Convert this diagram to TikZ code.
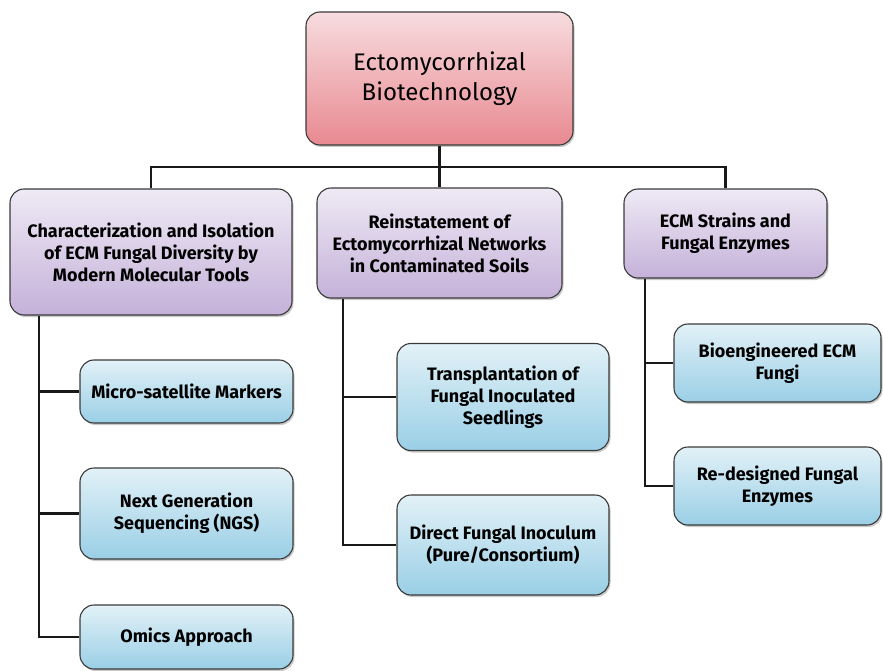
\documentclass[tikz,border=0pt]{standalone}
\usepackage{fontspec}
\setmainfont{Fira Sans}
\usetikzlibrary{shadows}
\definecolor{pinkT}{HTML}{F7DCDF}
\definecolor{pinkB}{HTML}{E88990}
\definecolor{lavT}{HTML}{EEEAF5}
\definecolor{lavB}{HTML}{C5B1D9}
\definecolor{bluT}{HTML}{E2F1F7}
\definecolor{bluB}{HTML}{9ACFE6}
\definecolor{edge}{HTML}{3A3A3A}
\tikzset{
  box/.style={draw=edge, line width=1.1pt, rounded corners=14pt, align=center, inner sep=0pt,
    drop shadow={shadow xshift=1.5pt, shadow yshift=-2pt, opacity=0.35, fill=black!60}},
  topbox/.style={box, top color=pinkT, bottom color=pinkB,
    font=\fontsize{24}{30}\selectfont},
  catbox/.style={box, top color=lavT, bottom color=lavB,
    font=\fontsize{18}{22}\selectfont\bfseries},
  leafbox/.style={box, top color=bluT, bottom color=bluB,
    font=\fontsize{18}{22}\selectfont\bfseries},
  conn/.style={draw=black!90, line width=2.2pt}
}
\begin{document}
\begin{tikzpicture}[x=1pt,y=-1pt]
\useasboundingbox (0,0) rectangle (883,671);
% boxes
\node[topbox, minimum width=267pt, minimum height=133pt] (top) at (439.5,78.5) {Ectomycorrhizal\\Biotechnology};
\node[catbox, minimum width=282pt, minimum height=126pt] (c1) at (151,252) {Characterization and Isolation\\of ECM Fungal Diversity by\\Modern Molecular Tools};
\node[catbox, minimum width=245pt, minimum height=110pt] (c2) at (439.5,243) {Reinstatement of\\Ectomycorrhizal Networks\\in Contaminated Soils};
\node[catbox, minimum width=203pt, minimum height=89pt] (c3) at (725.5,233.5) {ECM Strains and\\Fungal Enzymes};
\node[leafbox, minimum width=213pt, minimum height=63pt] (l1) at (186.5,391.5) {Micro-satellite Markers};
\node[leafbox, minimum width=213pt, minimum height=91pt] (l2) at (186.5,513.5) {Next Generation\\Sequencing (NGS)};
\node[leafbox, minimum width=213pt, minimum height=64pt] (l3) at (186.5,637) {Omics Approach};
\node[leafbox, minimum width=212pt, minimum height=107pt] (m1) at (503,397) {Transplantation of\\Fungal Inoculated\\Seedlings};
\node[leafbox, minimum width=212pt, minimum height=100pt] (m2) at (503,545) {Direct Fungal Inoculum\\(Pure/Consortium)};
\node[leafbox, minimum width=207pt, minimum height=78pt] (r1) at (777.5,363) {Bioengineered ECM\\Fungi};
\node[leafbox, minimum width=207pt, minimum height=78pt] (r2) at (777.5,486) {Re-designed Fungal\\Enzymes};
% connectors
\coordinate (bus) at (0,167);
\coordinate (lv) at (39,0);
\coordinate (mv) at (343,0);
\coordinate (rv) at (645,0);
\draw[conn] (top.south) -- (top.south |- bus);
\draw[conn] (c1.north) -- (c1.north |- bus) -| (c3.north);
\draw[conn] (c2.north) -- (c2.north |- bus);
\draw[conn] (lv |- c1.south) |- (l3.west);
\draw[conn] (lv |- l1.west) -- (l1.west);
\draw[conn] (lv |- l2.west) -- (l2.west);
\draw[conn] (mv |- c2.south) |- (m2.west);
\draw[conn] (mv |- m1.west) -- (m1.west);
\draw[conn] (rv |- c3.south) |- (r2.west);
\draw[conn] (rv |- r1.west) -- (r1.west);
\end{tikzpicture}
\end{document}
